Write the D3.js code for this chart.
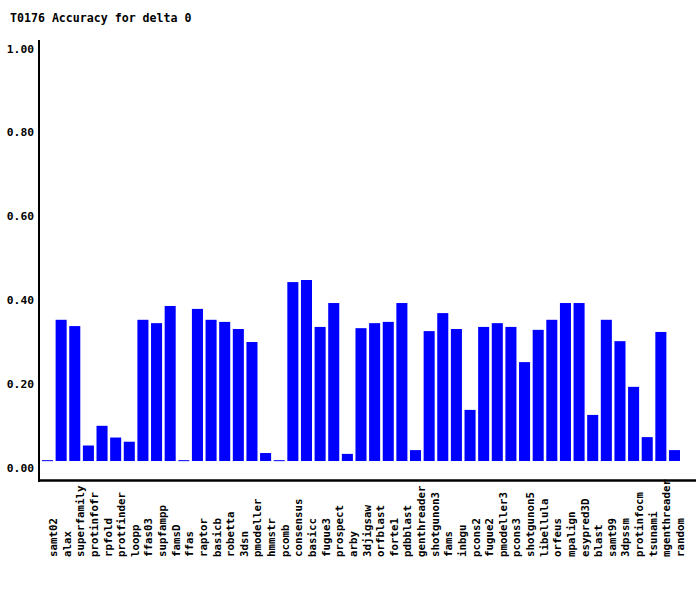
<!DOCTYPE html>
<html>
<head>
<meta charset="utf-8">
<script src="https://cdn.jsdelivr.net/npm/d3@7"></script>
<style>
  html, body { margin: 0; padding: 0; background: #fff; }
  svg { display: block; }
  text { font-family: "DejaVu Sans Mono", monospace; font-weight: bold; fill: #000; }
</style>
</head>
<body>
<svg id="chart" width="700" height="590"></svg>
<script>
const title = "T0176 Accuracy for delta 0";
const categories = ["samt02","alax","superfamily","protinfofr","rpfold","protfinder","loopp","ffas03","supfampp","famsD","ffas","raptor","basicb","robetta","3dsn","pmodeller","hmmstr","pcomb","consensus","basicc","fugue3","prospect","arby","3djigsaw","orfblast","forte1","pdbblast","genthreader","shotgunon3","fams","inbgu","pcons2","fugue2","pmodeller3","pcons3","shotgunon5","libellula","orfeus","mpalign","esypred3D","blast","samt99","3dpssm","protinfocm","tsunami","mgenthreader","random"];
const values = [0.002,0.337,0.322,0.037,0.084,0.056,0.046,0.337,0.329,0.370,0.002,0.363,0.337,0.332,0.315,0.284,0.019,0.002,0.427,0.432,0.320,0.377,0.017,0.317,0.329,0.332,0.377,0.026,0.310,0.353,0.315,0.122,0.320,0.329,0.320,0.236,0.313,0.337,0.377,0.377,0.110,0.337,0.286,0.177,0.057,0.308,0.026];
const yTicks = [0, 0.2, 0.4, 0.6, 0.8, 1.0];

const svg = d3.select("#chart");

const x = d3.scaleBand()
  .domain(categories)
  .range([40.7, 681.3])
  .paddingInner(0.19)
  .paddingOuter(0.095);

const y = d3.scaleLinear().domain([0, 1]).range([461, 42]);

// title
svg.append("text")
  .attr("x", 10).attr("y", 22)
  .style("font-size", "11.6px")
  .text(title);

// bars
svg.append("g").selectAll("rect")
  .data(categories.map((c, i) => ({c, v: values[i]})))
  .join("rect")
  .attr("x", d => x(d.c))
  .attr("width", x.bandwidth())
  .attr("y", d => y(d.v))
  .attr("height", d => Math.max(1, y(0) - y(d.v)))
  .attr("fill", "#0000ff");

// y tick labels
const yAxis = d3.axisLeft(y).tickValues(yTicks).tickFormat(d3.format(".2f")).tickSize(0).tickPadding(0);
const gy = svg.append("g").attr("transform", "translate(34,0)").call(yAxis);
gy.select(".domain").remove();
gy.selectAll("text")
  .attr("dy", null)
  .attr("y", 10)
  .style("font-size", "11.3px")
  .style("font-family", "DejaVu Sans Mono, monospace")
  .style("font-weight", "bold")
  .attr("text-anchor", "end");

// axes lines
svg.append("line").attr("x1", 39).attr("x2", 39).attr("y1", 40).attr("y2", 482)
  .attr("stroke", "#000").attr("stroke-width", 2);
svg.append("line").attr("x1", 38).attr("x2", 696).attr("y1", 480.5).attr("y2", 480.5)
  .attr("stroke", "#000").attr("stroke-width", 2.5);

// x labels
svg.append("g").selectAll("text")
  .data(categories)
  .join("text")
  .attr("transform", d => `translate(${x(d) + x.bandwidth() / 2 + 9.5},557) rotate(-90)`)
  .attr("text-anchor", "start")
  .style("font-size", "10.8px")
  .text(d => d);
</script>
</body>
</html>
